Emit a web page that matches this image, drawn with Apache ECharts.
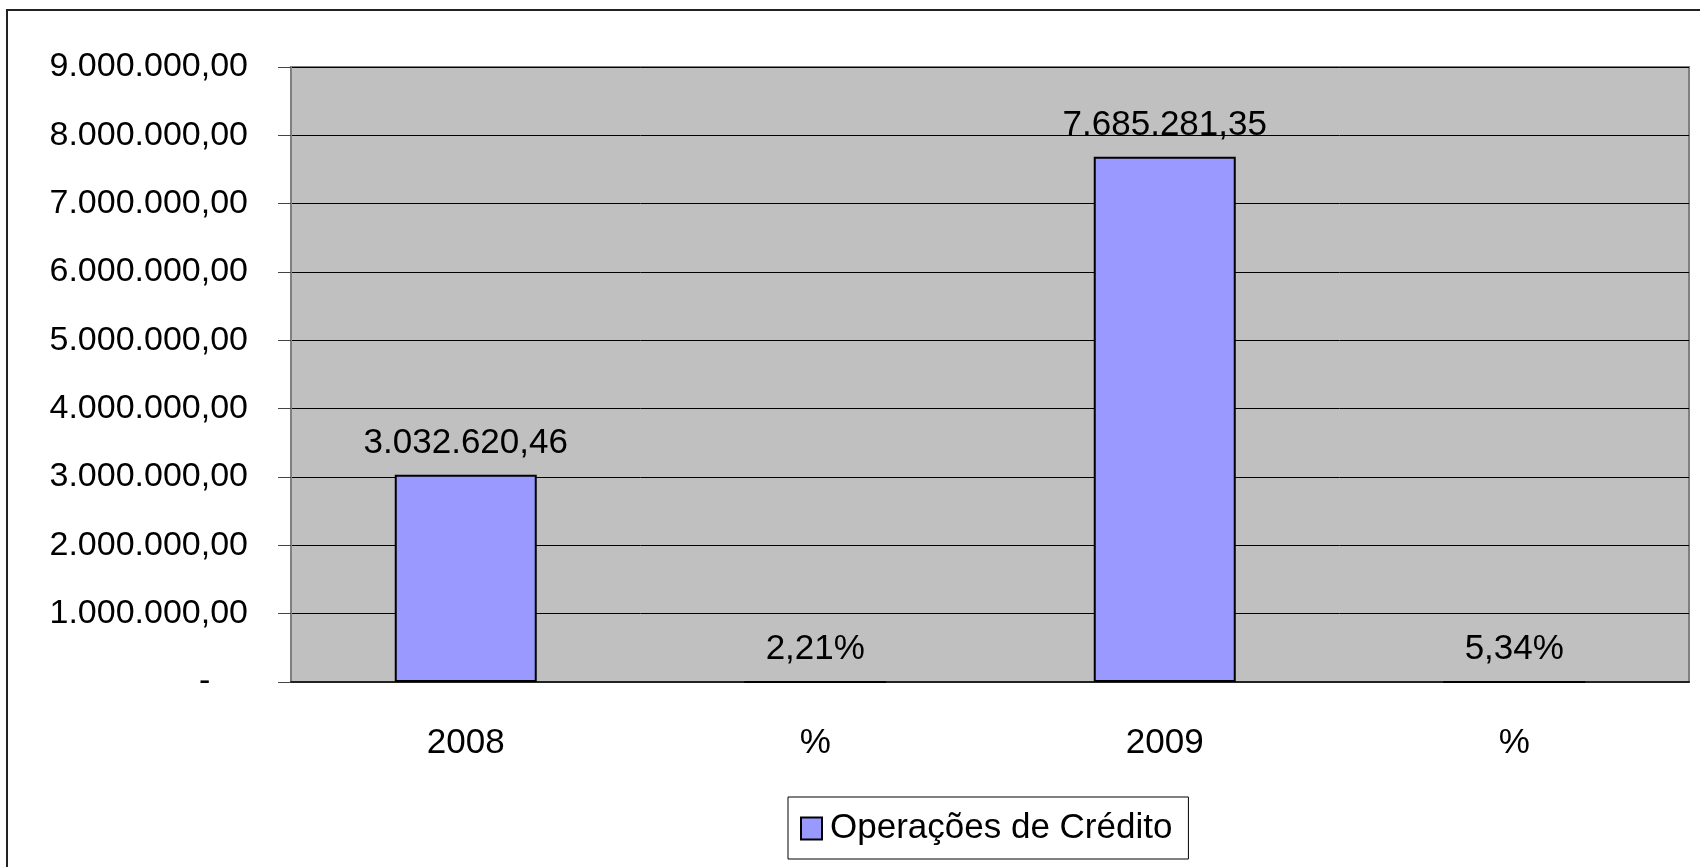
<!DOCTYPE html>
<html>
<head>
  <meta charset="utf-8">
  <title>Operações de Crédito</title>
  <script src="https://cdn.jsdelivr.net/npm/echarts@6/dist/echarts.min.js"></script>
  <style>
    html, body { margin: 0; padding: 0; background: #fff; }
    #main { width: 1700px; height: 867px; }
  </style>
</head>
<body>
<div id="main"></div>
<script>
// dados do gráfico
var categorias = ['2008', '%', '2009', '%'];
var valores = [3032620.46, 0.0221, 7685281.35, 0.0534];
var nomeSerie = 'Operações de Crédito';
var eixoMin = 0, eixoMax = 9000000, eixoPasso = 1000000;

// formata numero no padrao brasileiro: 1.234.567,89
function formataBR(v, casas) {
  var s = v.toFixed(casas);
  var partes = s.split('.');
  var inteiro = partes[0].replace(/\B(?=(\d{3})+(?!\d))/g, '.');
  return partes.length > 1 ? inteiro + ',' + partes[1] : inteiro;
}

var fonte = "'Liberation Sans', Arial, sans-serif";
var myChart = echarts.init(document.getElementById('main'));

var option = {
  animation: false,
  backgroundColor: '#fff',
  textStyle: { fontFamily: fonte },
  graphic: [{
    type: 'rect',
    shape: { x: 7, y: 10, width: 1720, height: 900 },
    style: { fill: 'none', stroke: '#222', lineWidth: 2 },
    silent: true
  }],
  grid: {
    left: 291, top: 67, right: 11, bottom: 185,
    show: true,
    backgroundColor: '#c0c0c0',
    borderColor: '#808080',
    borderWidth: 2
  },
  legend: {
    data: [nomeSerie],
    left: 788, top: 797,
    padding: [14, 16, 13, 12],
    borderColor: '#000',
    borderWidth: 1,
    backgroundColor: '#fff',
    icon: 'rect',
    itemWidth: 21,
    itemHeight: 22,
    itemStyle: { color: '#9999ff', borderColor: '#000', borderWidth: 2 },
    textStyle: { fontSize: 35, color: '#000', fontFamily: fonte, padding: [0, 0, 0, 3] }
  },
  xAxis: {
    type: 'category',
    data: categorias,
    axisLine: { lineStyle: { color: '#222', width: 2 } },
    axisTick: { length: 12, lineStyle: { color: '#444', width: 1 } },
    axisLabel: { fontSize: 35, color: '#000', margin: 44, fontFamily: fonte }
  },
  yAxis: {
    type: 'value',
    min: eixoMin, max: eixoMax, interval: eixoPasso,
    axisLine: { show: true, lineStyle: { color: '#808080', width: 2 } },
    axisTick: { show: true, length: 13, lineStyle: { color: '#444', width: 1 } },
    splitLine: { lineStyle: { color: '#000', width: 1 } },
    axisLabel: {
      fontSize: 34, color: '#000', margin: 43, fontFamily: fonte,
      formatter: function (v) { return v === 0 ? '-    ' : formataBR(v, 2); }
    }
  },
  series: [{
    name: nomeSerie,
    type: 'bar',
    data: valores,
    barWidth: 142,
    itemStyle: { color: '#9999ff', borderColor: '#000', borderWidth: 2 },
    label: {
      show: true,
      position: 'top',
      distance: 14,
      fontSize: 35,
      color: '#000',
      fontFamily: fonte,
      formatter: function (p) {
        return p.value < 1 ? formataBR(p.value * 100, 2) + '%' : formataBR(p.value, 2);
      }
    }
  }]
};

myChart.setOption(option);
</script>
</body>
</html>
